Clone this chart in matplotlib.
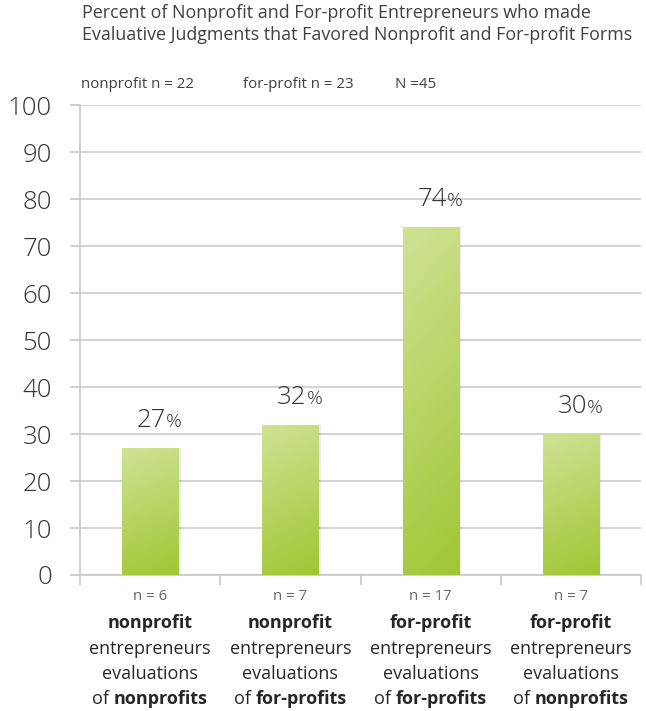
import numpy as np
import matplotlib
matplotlib.use("Agg")
import matplotlib.pyplot as plt
from matplotlib.transforms import offset_copy

plt.rcParams['font.family'] = ['Open Sans', 'DejaVu Sans']

# data
values = [27, 32, 74, 30]
group_n = ["n = 6", "n = 7", "n = 17", "n = 7"]
who = ["nonprofit", "nonprofit", "for-profit", "for-profit"]
of_what = ["nonprofits", "for-profits", "for-profits", "nonprofits"]
y_ticks = [0, 10, 20, 30, 40, 50, 60, 70, 80, 90, 100]
title = ("Percent of Nonprofit and For-profit Entrepreneurs who made\n"
         "Evaluative Judgments that Favored Nonprofit and For-profit Forms")
sample_notes = ["nonprofit n = 22", "for-profit n = 23", "N =45"]

W, H = 646, 711
fig = plt.figure(figsize=(W / 100, H / 100), dpi=100)
ax = fig.add_axes([80 / W, 1 - 575 / H, 561 / W, 470 / H])

x = np.arange(len(values)) + 0.5
bars = ax.bar(x, values, width=0.4, facecolor='none', edgecolor='none', zorder=3)

# gradient fill for each bar, light on top, deeper green at the bottom
top = np.array([208, 226, 148]) / 255
bot = np.array([160, 198, 52]) / 255
gy = np.linspace(1, 0, 200)[:, None]
gx = np.linspace(0, 1, 20)[None, :]
t = np.clip(0.85 * gy + 0.15 * (1 - gx), 0, 1)
grad = bot[None, None, :] + (top - bot)[None, None, :] * t[:, :, None]
for b in bars:
    x0, w, h = b.get_x(), b.get_width(), b.get_height()
    # soft shadow
    ax.bar(x0 + w / 2 + 0.012, h, width=w + 0.01, color='#000000', alpha=0.08,
           zorder=2)
    im = ax.imshow(grad, extent=[x0, x0 + w, 0, h], aspect='auto', zorder=3,
                   interpolation='bilinear')
    im.set_clip_path(b)

ax.set_xlim(0, len(values))
ax.set_ylim(0, 100)
ax.set_yticks(y_ticks)
ax.set_xticks(np.arange(len(values) + 1))
ax.set_xticklabels([])
ax.yaxis.grid(True, color='#d3d3d3', linewidth=1.4, zorder=0)
ax.set_axisbelow(True)
for s in ['top', 'right']:
    ax.spines[s].set_visible(False)
for s in ['left', 'bottom']:
    ax.spines[s].set_color('#c8c8c8')
    ax.spines[s].set_linewidth(1.2)
ax.tick_params(axis='y', length=7.2, width=1.2, color='#c8c8c8', pad=13,
               labelsize=18.5, labelcolor='#333333')
ax.tick_params(axis='x', length=7.2, width=1.2, color='#c8c8c8')
for lb in ax.get_yticklabels():
    lb.set_fontweight('light')

# value labels, big number + smaller percent sign
for xi, v in zip(x, values):
    ax.annotate(str(v), (xi, v), xytext=(16, 21), textcoords='offset pixels',
                ha='right', va='baseline', fontsize=18.5, color='#333333',
                fontweight='light')
    ax.annotate('%', (xi, v), xytext=(16, 21), textcoords='offset pixels',
                ha='left', va='baseline', fontsize=14, color='#333333',
                fontweight='light')

# category labels under the axis
trans = ax.get_xaxis_transform()
renderer = fig.canvas.get_renderer()


def mixed_line(xc, dy, parts, size=13):
    texts = []
    for s, wt in parts:
        tt = ax.text(xc, 0, s, transform=trans, ha='left', va='center',
                     fontsize=size, fontweight=wt, color='#262626')
        texts.append(tt)
    widths = [tt.get_window_extent(renderer).width for tt in texts]
    start = -sum(widths) / 2
    for tt, w in zip(texts, widths):
        tt.set_transform(offset_copy(trans, fig=fig, x=start, y=-dy, units='dots'))
        start += w


for xi, nn, wh, of in zip(x, group_n, who, of_what):
    ax.text(xi, 0, nn, transform=offset_copy(trans, fig=fig, x=0, y=-22, units='dots'),
            ha='center', va='center', fontsize=10.8, color='#666666')
    mixed_line(xi, 48, [(wh, 'bold')])
    mixed_line(xi, 74, [('entrepreneurs', 'normal')])
    mixed_line(xi, 99, [('evaluations', 'normal')])
    mixed_line(xi, 124, [('of ', 'normal'), (of, 'bold')])

fig.text(82 / W, 1 - 24 / H, title, ha='left', va='center', fontsize=12.9,
         color='#404040', linespacing=1.35)
note_x = [81, 243, 395]
for nx, s in zip(note_x, sample_notes):
    fig.text(nx / W, 1 - 85 / H, s, ha='left', va='center', fontsize=10.8,
             color='#404040')

fig.savefig('out.png', dpi=100)
